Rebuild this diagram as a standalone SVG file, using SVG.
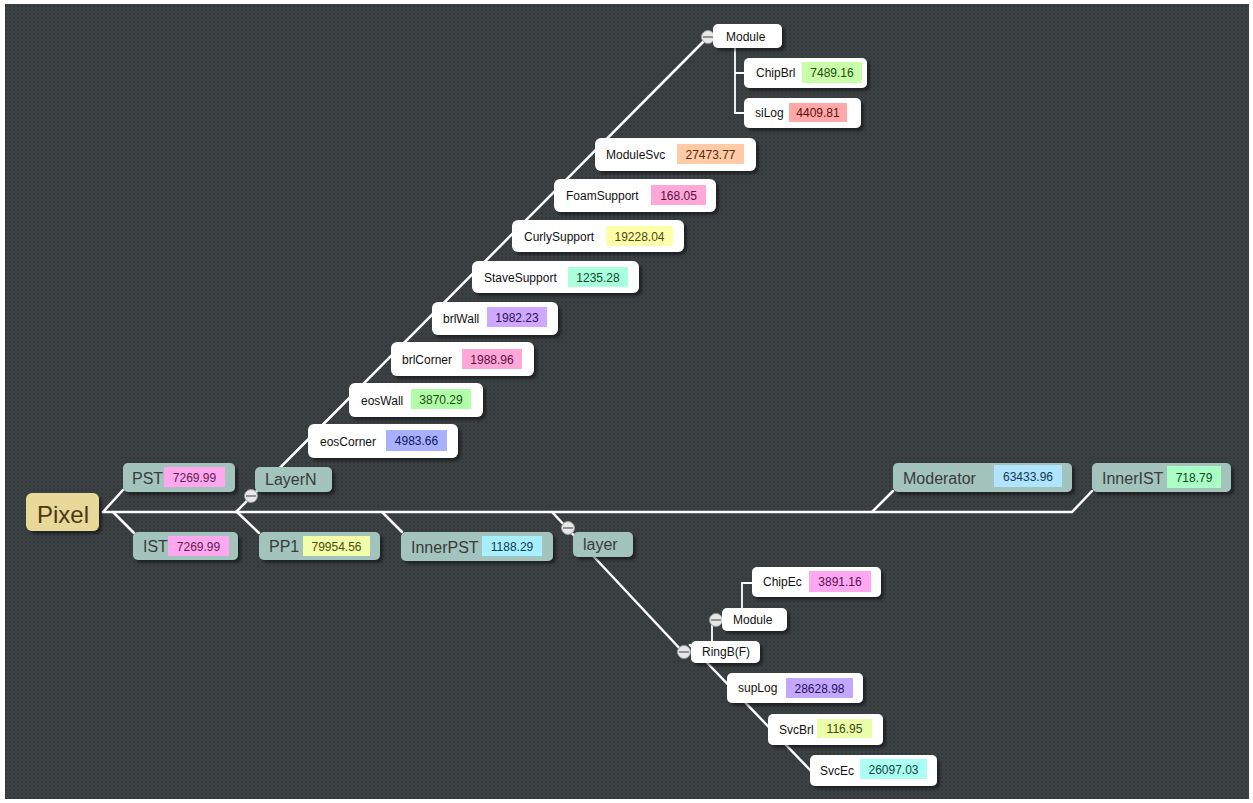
<svg xmlns="http://www.w3.org/2000/svg" width="1253" height="803" viewBox="0 0 1253 803">
<defs>
<pattern id="dots" width="4" height="4" patternUnits="userSpaceOnUse">
<rect width="4" height="4" fill="#3b4043"/>
<rect x="1" y="1" width="2" height="2" fill="#34383b"/>
</pattern>
<filter id="sh" x="-20%" y="-30%" width="140%" height="170%">
<feDropShadow dx="3" dy="3" stdDeviation="1.5" flood-color="#000" flood-opacity="0.45"/>
</filter>
<style>
.con{stroke:#fff;stroke-width:2.5;fill:none;stroke-linecap:round}
.br{stroke:#fff;stroke-width:1.8;fill:none}
.wn{fill:#fff;filter:url(#sh)}
.tn{fill:#a2c4bd;filter:url(#sh)}
.wl{font-family:"Liberation Sans",Arial,sans-serif;font-size:12px;fill:#111}
.tl{font-family:"Liberation Sans",Arial,sans-serif;font-size:16px;fill:#3a3a3a}
.bt{font-family:"Liberation Sans",Arial,sans-serif;font-size:12px;text-anchor:middle}
.cc{fill:#e8e8e8;stroke:#9a9a9a;stroke-width:1}
.cm{stroke:#777;stroke-width:1.5}
</style>
</defs>
<rect width="1253" height="803" fill="#fff"/>
<rect x="5" y="4" width="1244" height="795" fill="url(#dots)"/>

<g id="connectors">
<path class="con" d="M103,512 H1072 L1092,491"/>
<path class="con" d="M103,512 L123,490"/>
<path class="con" d="M113,512 L134,533"/>
<path class="con" d="M236,512 L708,37"/>
<path class="con" d="M237,512 L259,533"/>
<path class="con" d="M382,512 L402,532"/>
<path class="con" d="M872,512 L893,491"/>
<path class="con" d="M552,512 L683,652"/>
<path class="con" d="M690,645 L812,772"/>
<path class="br" d="M735,48 V113 H744 M735,73 H744"/>
<path class="br" d="M712,620 V641 M742,608 V583 H752"/>
</g>

<g id="Pixel">
<rect x="26" y="493" width="73" height="38" rx="6" fill="#e8d899" filter="url(#sh)"/>
<text x="37" y="523" font-family="Liberation Sans, Arial, sans-serif" font-size="24" fill="#4a3a10">Pixel</text>
</g>
<g id="PST">
<rect class="tn" x="123" y="463" width="112" height="29" rx="5"/>
<text class="tl" x="132" y="484">PST</text>
<rect x="164" y="467" width="61" height="20" fill="#ffa8f0"/>
<text class="bt" x="194.5" y="482" fill="#5a1f50">7269.99</text>
</g>
<g id="IST">
<rect class="tn" x="133" y="532" width="105" height="28" rx="5"/>
<text class="tl" x="143" y="552">IST</text>
<rect x="168" y="536" width="61" height="20" fill="#ffa8f0"/>
<text class="bt" x="198.5" y="551" fill="#5a1f50">7269.99</text>
</g>
<g id="LayerN">
<rect class="tn" x="255" y="467" width="77" height="25" rx="5"/>
<text class="tl" x="265" y="485">LayerN</text>
<circle class="cc" cx="251" cy="496" r="6.5"/>
<line class="cm" x1="246" y1="496" x2="256" y2="496"/>
</g>
<g id="PP1">
<rect class="tn" x="259" y="532" width="121" height="28" rx="5"/>
<text class="tl" x="269" y="552">PP1</text>
<rect x="303" y="536" width="67" height="20" fill="#f2ffa8"/>
<text class="bt" x="336.5" y="551" fill="#4a4a10">79954.56</text>
</g>
<g id="InnerPST">
<rect class="tn" x="401" y="532" width="152" height="29" rx="5"/>
<text class="tl" x="411" y="553">InnerPST</text>
<rect x="482" y="536" width="60" height="20" fill="#a8f0ff"/>
<text class="bt" x="512" y="551" fill="#103a50">1188.29</text>
</g>
<g id="layer">
<rect class="tn" x="573" y="532" width="60" height="25" rx="5"/>
<text class="tl" x="583" y="550">layer</text>
<circle class="cc" cx="568" cy="528" r="6.5"/>
<line class="cm" x1="563" y1="528" x2="573" y2="528"/>
</g>
<g id="Moderator">
<rect class="tn" x="893" y="463" width="179" height="29" rx="5"/>
<text class="tl" x="903" y="484">Moderator</text>
<rect x="994" y="465" width="68" height="22" fill="#b0e4ff"/>
<text class="bt" x="1028" y="481" fill="#103a50">63433.96</text>
</g>
<g id="InnerIST">
<rect class="tn" x="1092" y="463" width="139" height="29" rx="5"/>
<text class="tl" x="1102" y="484">InnerIST</text>
<rect x="1167" y="466" width="54" height="22" fill="#aaffc4"/>
<text class="bt" x="1194" y="482" fill="#104a20">718.79</text>
</g>

<g id="ModuleTop">
<circle class="cc" cx="708" cy="37" r="6.5"/>
<line class="cm" x1="703" y1="37" x2="713" y2="37"/>
<rect class="wn" x="713" y="24" width="69" height="24" rx="5"/>
<text class="wl" x="726" y="41">Module</text>
</g>
<g id="ChipBrl">
<rect class="wn" x="744" y="58" width="123" height="30" rx="5"/>
<text class="wl" x="756" y="77">ChipBrl</text>
<rect x="802" y="62" width="60" height="21" fill="#c8ffa8"/>
<text class="bt" x="832" y="77" fill="#2a4a10">7489.16</text>
</g>
<g id="siLog">
<rect class="wn" x="744" y="98" width="117" height="30" rx="5"/>
<text class="wl" x="755" y="117">siLog</text>
<rect x="789" y="103" width="58" height="19" fill="#ffa8a8"/>
<text class="bt" x="818" y="117" fill="#5a1010">4409.81</text>
</g>
<g id="ModuleSvc">
<rect class="wn" x="595" y="138" width="161" height="33" rx="6"/>
<text class="wl" x="606" y="159">ModuleSvc</text>
<rect x="677" y="144" width="67" height="20" fill="#ffcba6"/>
<text class="bt" x="710.5" y="159" fill="#5a2a10">27473.77</text>
</g>
<g id="FoamSupport">
<rect class="wn" x="554" y="179" width="162" height="33" rx="6"/>
<text class="wl" x="566" y="200">FoamSupport</text>
<rect x="651" y="185" width="55" height="20" fill="#ffa8d8"/>
<text class="bt" x="678.5" y="200" fill="#5a1040">168.05</text>
</g>
<g id="CurlySupport">
<rect class="wn" x="512" y="220" width="172" height="32" rx="6"/>
<text class="wl" x="524" y="241">CurlySupport</text>
<rect x="606" y="226" width="67" height="20" fill="#ffffaa"/>
<text class="bt" x="639.5" y="241" fill="#4a4a10">19228.04</text>
</g>
<g id="StaveSupport">
<rect class="wn" x="472" y="261" width="167" height="32" rx="6"/>
<text class="wl" x="484" y="282">StaveSupport</text>
<rect x="568" y="267" width="60" height="20" fill="#aaffdc"/>
<text class="bt" x="598" y="282" fill="#104a30">1235.28</text>
</g>
<g id="brlWall">
<rect class="wn" x="432" y="302" width="126" height="33" rx="6"/>
<text class="wl" x="443" y="323">brlWall</text>
<rect x="487" y="307" width="60" height="20" fill="#cfa8ff"/>
<text class="bt" x="517" y="322" fill="#30105a">1982.23</text>
</g>
<g id="brlCorner">
<rect class="wn" x="391" y="342" width="143" height="34" rx="6"/>
<text class="wl" x="402" y="364">brlCorner</text>
<rect x="462" y="349" width="60" height="20" fill="#ffa8d8"/>
<text class="bt" x="492" y="364" fill="#5a1040">1988.96</text>
</g>
<g id="eosWall">
<rect class="wn" x="349" y="383" width="134" height="34" rx="6"/>
<text class="wl" x="361" y="405">eosWall</text>
<rect x="411" y="389" width="60" height="20" fill="#b0ffa8"/>
<text class="bt" x="441" y="404" fill="#1a4a10">3870.29</text>
</g>
<g id="eosCorner">
<rect class="wn" x="308" y="424" width="150" height="34" rx="6"/>
<text class="wl" x="320" y="446">eosCorner</text>
<rect x="386" y="430" width="61" height="21" fill="#a8b0ff"/>
<text class="bt" x="416.5" y="445" fill="#10185a">4983.66</text>
</g>

<g id="ChipEc">
<rect class="wn" x="752" y="567" width="129" height="30" rx="5"/>
<text class="wl" x="763" y="586">ChipEc</text>
<rect x="809" y="571" width="62" height="21" fill="#ffa8f2"/>
<text class="bt" x="840" y="586" fill="#5a1050">3891.16</text>
</g>
<g id="ModuleLow">
<circle class="cc" cx="716" cy="620" r="6.5"/>
<line class="cm" x1="711" y1="620" x2="721" y2="620"/>
<rect class="wn" x="722" y="608" width="65" height="23" rx="5"/>
<text class="wl" x="733" y="624">Module</text>
</g>
<g id="RingB">
<circle class="cc" cx="684" cy="652" r="6.5"/>
<line class="cm" x1="679" y1="652" x2="689" y2="652"/>
<rect class="wn" x="691" y="641" width="69" height="22" rx="5"/>
<text class="wl" x="702" y="656">RingB(F)</text>
</g>
<g id="supLog">
<rect class="wn" x="727" y="673" width="136" height="30" rx="5"/>
<text class="wl" x="738" y="692">supLog</text>
<rect x="786" y="678" width="67" height="20" fill="#c4a8ff"/>
<text class="bt" x="819.5" y="693" fill="#28105a">28628.98</text>
</g>
<g id="SvcBrl">
<rect class="wn" x="768" y="714" width="115" height="31" rx="5"/>
<text class="wl" x="779" y="734">SvcBrl</text>
<rect x="817" y="719" width="55" height="19" fill="#eaffa8"/>
<text class="bt" x="844.5" y="733" fill="#3a4a10">116.95</text>
</g>
<g id="SvcEc">
<rect class="wn" x="810" y="755" width="127" height="31" rx="5"/>
<text class="wl" x="820" y="775">SvcEc</text>
<rect x="860" y="759" width="67" height="20" fill="#aafff2"/>
<text class="bt" x="893.5" y="774" fill="#104a44">26097.03</text>
</g>
</svg>
